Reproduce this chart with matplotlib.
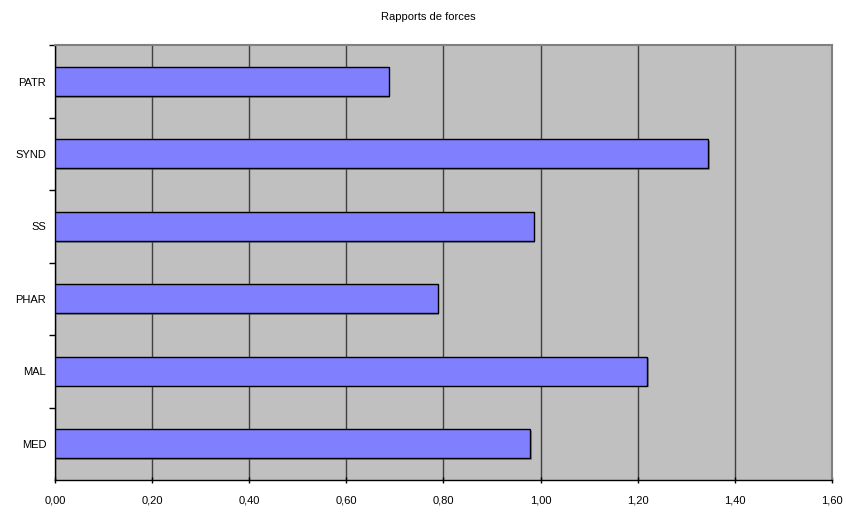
import matplotlib
matplotlib.use("Agg")
import matplotlib.pyplot as plt
import matplotlib.patheffects as pe
from matplotlib.ticker import FuncFormatter, MultipleLocator

plt.rcParams['font.family'] = ['Liberation Sans', 'DejaVu Sans']

# Categories listed from bottom to top
categories = ["MED", "MAL", "PHAR", "SS", "SYND", "PATR"]
values = [0.978, 1.219, 0.788, 0.986, 1.345, 0.687]
title = "Rapports de forces"

fig = plt.figure(figsize=(8.45, 5.07), dpi=100)
ax = fig.add_axes([0.0654, 0.0533, 0.9189, 0.8574])
ax.set_facecolor("#C0C0C0")

ypos = list(range(len(categories)))
bars = ax.barh(ypos, values, height=0.4, color="#8080FF",
               edgecolor="black", linewidth=1.0, zorder=3)
for b in bars:
    b.set_path_effects([pe.SimplePatchShadow(offset=(1.2, -1.2),
                                             shadow_rgbFace="#606060", alpha=0.6),
                        pe.Normal()])

ax.set_xlim(0, 1.6)
ax.set_ylim(-0.5, len(categories) - 0.5)

ax.xaxis.set_major_locator(MultipleLocator(0.2))
ax.xaxis.set_major_formatter(FuncFormatter(lambda v, p: f"{v:.2f}".replace(".", ",")))
ax.grid(axis="x", color="#404040", linewidth=1.0, zorder=1)
ax.set_axisbelow(True)

# y ticks sit on the category boundaries, labels centered on bars
ax.set_yticks([i + 0.5 for i in range(len(categories) - 1)] + [len(categories) - 0.5])
ax.set_yticklabels([])
ax.set_yticks(ypos, minor=True)
ax.set_yticklabels(categories, minor=True)
ax.tick_params(axis="y", which="minor", length=0, pad=6.5, labelsize=8)
ax.tick_params(axis="y", which="major", length=4, width=1, color="black", direction="out")
ax.tick_params(axis="x", length=4, width=1, color="black", direction="inout",
               pad=9, labelsize=8)

for side in ("left", "bottom"):
    ax.spines[side].set_color("black")
    ax.spines[side].set_linewidth(1.0)
for side in ("top", "right"):
    ax.spines[side].set_color("#808080")
    ax.spines[side].set_linewidth(1.5)

fig.text(0.507, 0.9596, title, ha="center", va="baseline", fontsize=8)

fig.savefig("out.png", dpi=100)
